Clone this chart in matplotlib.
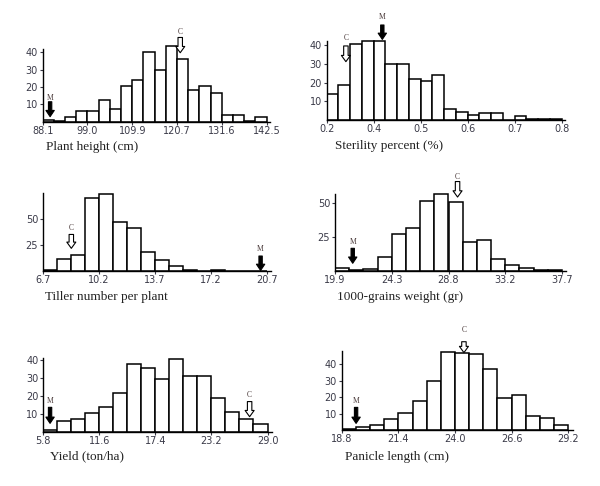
import numpy as np
import matplotlib
matplotlib.use('Agg')
import matplotlib.pyplot as plt

# counts per bin
height_counts = [1.0, 0.5, 2.5, 6.3, 6.3, 12.8, 7.1, 20.4, 24, 40, 30, 43.5, 36, 18.5, 20.8, 16.5, 4, 4, 0.5, 2.5]
sterility_counts = [13.8, 18.6, 40.9, 42, 42, 29.8, 29.8, 22, 20.6, 24, 5.7, 4.5, 2.5, 3.8, 3.8, 0, 2, 0.5, 0.5, 0.5]
tiller_counts = [1.3, 11.4, 15.9, 70, 73.4, 47.2, 41.1, 18.4, 10.4, 5.4, 1, 0, 1, 0, 0, 0]
grain_counts = [2.6, 1.0, 1.7, 10.7, 27.4, 32, 51.7, 56.8, 50.9, 21.4, 23.2, 8.8, 4.4, 2.2, 1.0, 1.0]
yield_counts = [1, 6, 7.2, 10.5, 13.7, 21.7, 37.8, 35.7, 29.4, 40.7, 31.3, 31.3, 19, 10.9, 7.2, 4.6]
panicle_counts = [0.6, 1.6, 3, 6.7, 10.3, 17.8, 29.5, 47.5, 46.5, 45.9, 36.8, 19.6, 21.2, 8.7, 7.3, 3]

# axis ranges and tick labels
height_range = (88.1, 142.5)
height_ticks = ['88.1', '99.0', '109.9', '120.7', '131.6', '142.5']
sterility_range = (0.2, 0.8)
sterility_ticks = ['0.2', '0.4', '0.5', '0.6', '0.7', '0.8']
tiller_range = (6.7, 20.7)
tiller_ticks = ['6.7', '10.2', '13.7', '17.2', '20.7']
grain_range = (19.9, 37.7)
grain_ticks = ['19.9', '24.3', '28.8', '33.2', '37.7']
yield_range = (5.8, 29.0)
yield_ticks = ['5.8', '11.6', '17.4', '23.2', '29.0']
panicle_range = (18.8, 29.2)
panicle_ticks = ['18.8', '21.4', '24.0', '26.6', '29.2']

# arrow marks: (x, label y, arrow top, arrow bottom)
height_M, height_C = (89.9, 13.8, 11.5, 2.9), (121.5, 51.6, 48.6, 39.8)
sterility_M, sterility_C = (0.342, 55.2, 50.8, 43.1), (0.249, 43.7, 39.6, 31.2)
tiller_M, tiller_C = (20.3, 20.9, 14.5, 0.8), (8.47, 40.8, 35, 21.8)
grain_M, grain_C = (21.29, 21.3, 16.9, 5.9), (29.51, 69.6, 66, 54.6)
yield_M, yield_C = (6.5, 17.2, 13.7, 4.8), (27.15, 20.6, 16.9, 8.5)
panicle_M, panicle_C = (19.46, 17.6, 13.7, 4.0), (24.41, 60.6, 53.5, 46.9)

W, H = 600, 486
tick_color = '#3a3a48'


def draw_panel(fig, counts, xrange_, ticklabels, yticks, xlabel, M, C,
               x0, x1, yzero, ppu, ytop, spine_top, label_xy, ext=0.3):
    n = len(counts)
    lo, hi = xrange_
    binw = (hi - lo) / n
    ext_data = ext * binw
    width_px = (x1 - x0) * (1 + ext_data / (hi - lo))
    ax = fig.add_axes([x0 / W, 1 - yzero / H, width_px / W, ytop * ppu / H])
    edges = np.linspace(lo, hi, n + 1)
    ax.bar(edges[:-1], counts, width=binw, align='edge', color='white',
           edgecolor='black', linewidth=1.1)
    ax.set_xlim(lo, hi + ext_data)
    ax.set_ylim(0, ytop)
    for s in ['top', 'right']:
        ax.spines[s].set_visible(False)
    ax.spines['left'].set_bounds(0, spine_top)
    ax.spines['left'].set_linewidth(1.0)
    ax.spines['bottom'].set_linewidth(1.0)
    step = n // (len(ticklabels) - 1)
    ax.set_xticks(edges[::step])
    ax.set_xticklabels(ticklabels)
    ax.set_yticks(yticks)
    ax.tick_params(axis='both', labelsize=7, colors=tick_color, length=2.5,
                   width=0.8, pad=1)
    ax.tick_params(axis='x', length=2)

    # marker arrows: filled for M, hollow for C
    styles = {
        'M': 'simple,head_length=0.45,head_width=0.6,tail_width=0.24',
        'C': 'simple,head_length=0.45,head_width=0.65,tail_width=0.32',
    }
    for (xa, yl, yt, yb), letter, fc in [(M, 'M', 'black'), (C, 'C', 'white')]:
        ax.annotate('', xy=(xa, yb), xytext=(xa, yt), annotation_clip=False,
                    arrowprops=dict(arrowstyle=styles[letter], fc=fc, ec='black',
                                    lw=0.8, shrinkA=0, shrinkB=0, mutation_scale=10))
        ax.text(xa, yl, letter, ha='center', va='center', fontsize=5.5,
                family='Liberation Serif', color='#4a3a3a', clip_on=False)

    fig.text(label_xy[0] / W, 1 - label_xy[1] / H, xlabel, ha='left', va='center',
             fontsize=9.5, family='Liberation Serif', color='#222222')
    return ax


fig = plt.figure(figsize=(6, 4.86), dpi=100)

draw_panel(fig, height_counts, height_range, height_ticks, [10, 20, 30, 40],
           'Plant height (cm)', height_M, height_C,
           42.7, 266.7, 121.7, 1.733, 53, 42, (45.5, 146.7))
draw_panel(fig, sterility_counts, sterility_range, sterility_ticks, [10, 20, 30, 40],
           'Sterility percent (%)', sterility_M, sterility_C,
           326.7, 561.7, 120, 1.87, 57, 42, (335, 145.7))
draw_panel(fig, tiller_counts, tiller_range, tiller_ticks, [25, 50],
           'Tiller number per plant', tiller_M, tiller_C,
           43, 267, 271.3, 1.053, 76, 74, (45, 296.7))
draw_panel(fig, grain_counts, grain_range, grain_ticks, [25, 50],
           '1000-grains weight (gr)', grain_M, grain_C,
           335, 562, 271.3, 1.36, 72, 57, (337.3, 296.7))
draw_panel(fig, yield_counts, yield_range, yield_ticks, [10, 20, 30, 40],
           'Yield (ton/ha)', yield_M, yield_C,
           43.3, 267.5, 432, 1.8, 42, 41, (50, 456.7))
draw_panel(fig, panicle_counts, panicle_range, panicle_ticks, [10, 20, 30, 40],
           'Panicle length (cm)', panicle_M, panicle_C,
           341.7, 568.3, 430, 1.65, 62, 48, (345, 456.7))

fig.savefig('out.png', dpi=100)
